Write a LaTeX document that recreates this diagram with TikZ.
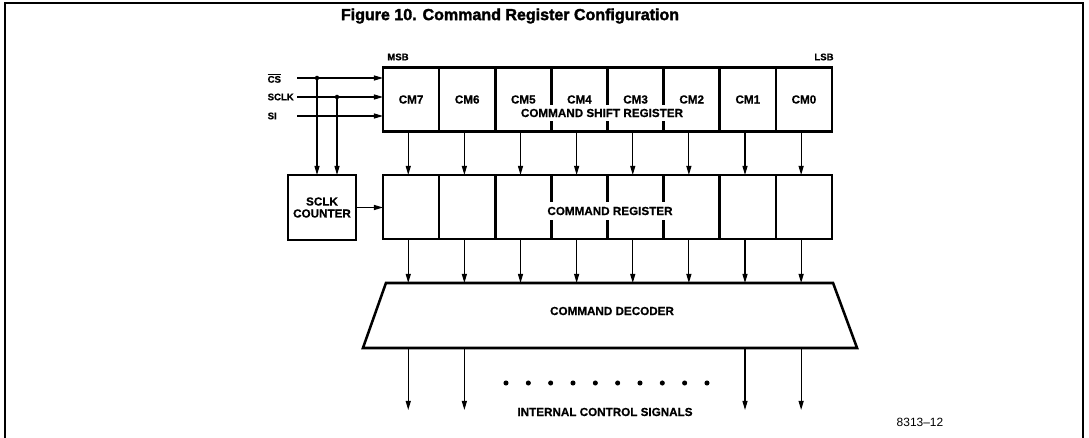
\documentclass[tikz,border=0pt]{standalone}
\usepackage{fontspec}
\setmainfont{Liberation Sans}[BoldFeatures={FakeBold=0.6}]
\newfontfamily\headfont{Liberation Sans}[BoldFeatures={FakeBold=2}]
\usetikzlibrary{arrows.meta}

\tikzset{
  reg/.style={draw, line width=1.8pt, outer sep=0pt, inner sep=0pt,
    minimum width=1.403cm, minimum height=1.6cm},
  sig/.style={-{Triangle[length=6.5pt,width=3.6pt]}, line width=0.8pt},
  lbl/.style={font=\bfseries\fontsize{8.3}{8.5}\selectfont},
  pin/.style={font=\bfseries\fontsize{6.8}{8}\selectfont, inner sep=1pt},
}

\begin{document}
\begin{tikzpicture}[x=0.025cm, y=-0.025cm]
    \useasboundingbox (0,0) rectangle (1089,438);

    % FRAME AND TITLE
    \draw[line width=1.4pt] (5,438) -- (5,3) -- (1083,3) -- (1083,438);
    \node[font=\headfont\bfseries\fontsize{11.4}{13}\selectfont] (title) at (510,16)
        {Figure 10. Command Register Configuration};

    % REGISTER CELLS
    \foreach \i in {0,...,7}{
        \node[reg, lbl] (sr\i) at ({832-56.125*(\i+0.5)},99.5) {CM\i};
        \node[reg] (cr\i) at ({832-56.125*(\i+0.5)},207) {};
    }
    \node[lbl, fill=white, inner xsep=1pt, inner ysep=2.5pt] (srname) at (602,113) {COMMAND SHIFT REGISTER};
    \node[lbl, fill=white, inner xsep=1pt, inner ysep=3.5pt] (crname) at (610,211) {COMMAND REGISTER};
    \node[pin] (msb) at (398,57) {MSB};
    \node[pin] (lsb) at (824,57) {LSB};

    % DECODER
    \node[minimum width=12.35cm, minimum height=1.625cm, inner sep=0pt, outer sep=0pt] (dec)
        at (610,315.5) {};
    \draw[line width=1.8pt, line join=miter]
        ([xshift=0.575cm]dec.north west) -- ([xshift=-0.6cm]dec.north east)
        -- (dec.south east) -- (dec.south west) -- cycle;
    \node[lbl] (decname) at (612,311) {COMMAND DECODER};

    % COUNTER
    \node[reg, lbl, align=center, minimum width=1.7cm, minimum height=1.625cm] (cnt)
        at (322,207.5) {SCLK\\COUNTER};

    % INPUTS
    \coordinate (bus) at (297,0);
    \node[pin, anchor=west] (cs) at (266,78) {$\overline{\mbox{CS}}$};
    \node[pin, anchor=west] (sclk) at (266,97) {SCLK};
    \node[pin, anchor=west] (si) at (266,116) {SI};
    \foreach \n in {cs,sclk,si}
        \draw[sig] (\n -| bus) -- (\n -| sr7.west);
    \coordinate (j1) at (317,78);
    \coordinate (j2) at (337,97);
    \foreach \j in {j1,j2}{
        \fill (\j) circle (1.6pt);
        \draw[sig] (\j) -- (\j |- cnt.north);
    }
    \draw[sig] (cnt.east) -- (cnt.east -| cr7.west);

    % TRANSFERS
    \foreach \i in {0,...,7}{
        \draw[sig] ([xshift=-2pt]sr\i.south) -- ([xshift=-2pt]cr\i.north);
        \draw[sig] ([xshift=-2pt]cr\i.south) -- ([xshift=-2pt]cr\i.south |- dec.north);
    }

    % OUTPUTS
    \foreach \i in {7,6,1,0}
        \draw[sig] ([xshift=-2pt]cr\i.south |- dec.south) -- ++(0,62);
    \foreach \k in {0,...,9}
        \fill (506+22.33*\k,383) circle (1.8pt);
    \node[lbl] (ctl) at (605,412) {INTERNAL CONTROL SIGNALS};
    \node[font=\fontsize{8.5}{10}\selectfont] (fig) at (920,422) {8313--12};

\end{tikzpicture}
\end{document}
